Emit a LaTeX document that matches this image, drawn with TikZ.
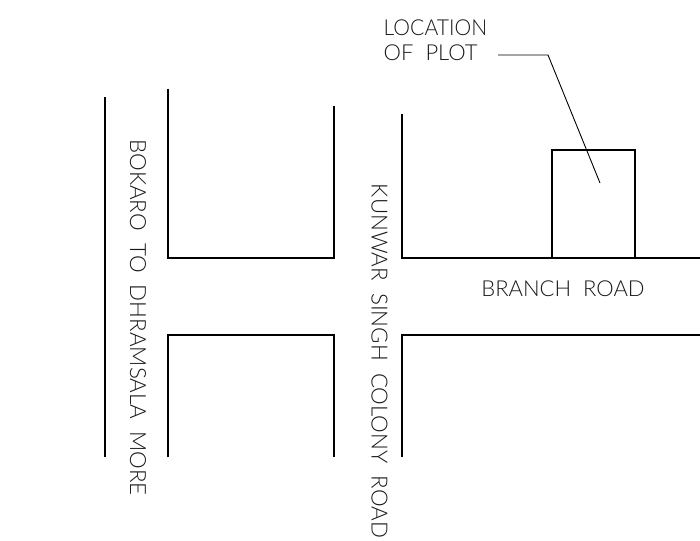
\documentclass[tikz,border=0pt]{standalone}
\usepackage{fontspec}
\setmainfont[UprightFont=* Light]{Lato}
\tikzset{
 road/.style={draw=black,line width=1.9pt,line join=miter},
 thin line/.style={draw=black,line width=0.9pt},
 lbl/.style={inner sep=0pt,font=\fontsize{22}{26}\selectfont, text=black!90},
 vlbl/.style={inner sep=0pt,font=\fontsize{22.3}{26}\selectfont, text=black!90},
}
\begin{document}
\begin{tikzpicture}[x=1pt,y=-1pt]
\useasboundingbox (0,0) rectangle (700,540);
\fill[white] (0,0) rectangle (700,540);
\draw[road] (105,97) -- (105,457);
\draw[road] (167.6,89) -- (167.6,258) -- (334,258) -- (334,106);
\draw[road] (167.6,457) -- (167.6,335.4) -- (334,335.4) -- (334,457);
\draw[road] (401.6,114) -- (401.6,258) -- (700,258);
\draw[road] (401.6,457) -- (401.6,335.4) -- (700,335.4);
\draw[road] (552,258) -- (552,149.6) -- (635,149.6) -- (635,258);
\coordinate (a) at (498,55); \coordinate (b) at (548,55); \coordinate (c) at (600,183);
\draw[thin line] (a) -- (b) -- (c);
\node[lbl,anchor=west,xscale=0.96] (l1) at (383.5,28) {LOCATION};
\node[lbl,anchor=west] (l2) at (383.5,53) {OF\ \ PLOT};
\node[lbl] (br) at (563,289) {BRANCH\ \ ROAD};
\node[vlbl,rotate=-90] (bk) at (138,317.5) {BOKARO\ \ TO\ \ DHRAMSALA\ \ MORE};
\node[vlbl,rotate=-90] (ks) at (379.5,361) {KUNWAR\ \ SINGH\ \ COLONY\ \ ROAD};
\end{tikzpicture}
\end{document}
